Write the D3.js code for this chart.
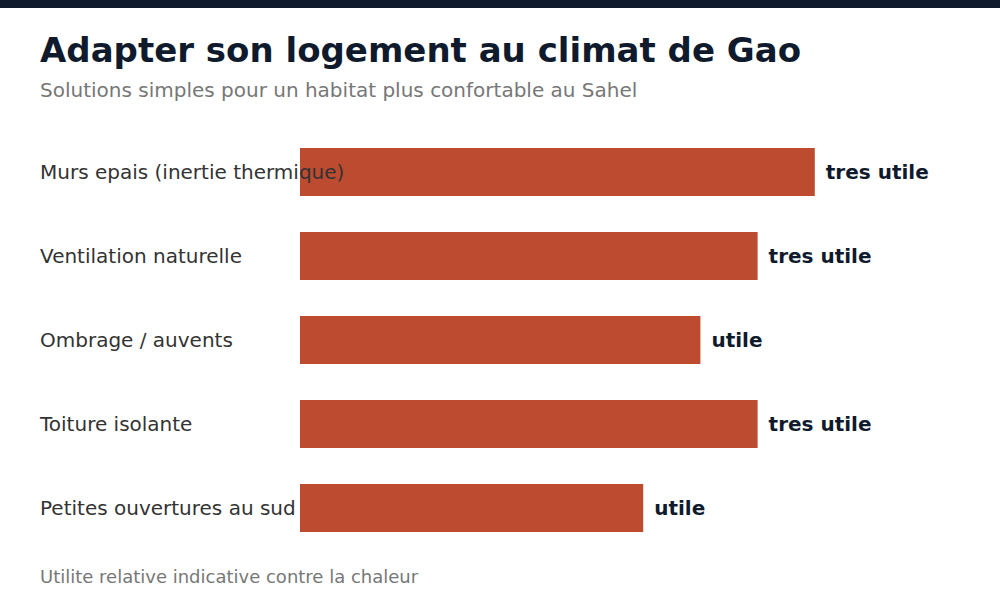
<!DOCTYPE html>
<html>
<head>
<meta charset="utf-8">
<script src="https://cdn.jsdelivr.net/npm/d3@7"></script>
<style>
  body { margin: 0; background: #fff; }
  svg { display: block; font-family: "DejaVu Sans", sans-serif; }
</style>
</head>
<body>
<div id="chart"></div>
<script>
let width = 1000;
let height = 600;

// Data
const solutions = [
  "Murs epais (inertie thermique)",
  "Ventilation naturelle",
  "Ombrage / auvents",
  "Toiture isolante",
  "Petites ouvertures au sud"
];
const scores = [9, 8, 7, 8, 6];
const ratings = ["tres utile", "tres utile", "utile", "tres utile", "utile"];

const data = solutions.map((d, i) => ({ name: d, value: scores[i], label: ratings[i] }));

const svg = d3.select("#chart")
  .append("svg")
  .attr("width", width)
  .attr("height", height);

// top band
svg.append("rect")
  .attr("x", 0).attr("y", 0)
  .attr("width", width).attr("height", 8)
  .attr("fill", "#0f1b2d");

// Title and subtitle
svg.append("text")
  .attr("x", 40).attr("y", 62)
  .attr("font-size", 34)
  .attr("font-weight", "bold")
  .attr("fill", "#0f1b2d")
  .text("Adapter son logement au climat de Gao");

svg.append("text")
  .attr("x", 40).attr("y", 97)
  .attr("font-size", 20)
  .attr("fill", "#777")
  .text("Solutions simples pour un habitat plus confortable au Sahel");

// Scales
const x = d3.scaleLinear()
  .domain([0, 10])
  .range([300, 872]);

const y = d3.scaleBand()
  .domain(solutions)
  .range([130, 550])
  .paddingInner(3 / 7)
  .paddingOuter(3 / 14);

// Bars
svg.selectAll("rect.bar")
  .data(data)
  .enter()
  .append("rect")
  .attr("class", "bar")
  .attr("x", x(0))
  .attr("y", d => y(d.name))
  .attr("width", d => x(d.value) - x(0))
  .attr("height", y.bandwidth())
  .attr("fill", "#bc4b2f");

// Category labels (drawn over bars)
svg.selectAll("text.cat")
  .data(data)
  .enter()
  .append("text")
  .attr("class", "cat")
  .attr("x", 40)
  .attr("y", d => y(d.name) + y.bandwidth() / 2)
  .attr("dy", "0.35em")
  .attr("font-size", 20)
  .attr("fill", "#333")
  .text(d => d.name);

// Value labels
svg.selectAll("text.val")
  .data(data)
  .enter()
  .append("text")
  .attr("class", "val")
  .attr("x", d => x(d.value) + 11)
  .attr("y", d => y(d.name) + y.bandwidth() / 2)
  .attr("dy", "0.35em")
  .attr("font-size", 20)
  .attr("font-weight", "bold")
  .attr("fill", "#0f1b2d")
  .text(d => d.label);

// Footnote
svg.append("text")
  .attr("x", 40).attr("y", 583)
  .attr("font-size", 18)
  .attr("fill", "#777")
  .text("Utilite relative indicative contre la chaleur");
</script>
</body>
</html>
